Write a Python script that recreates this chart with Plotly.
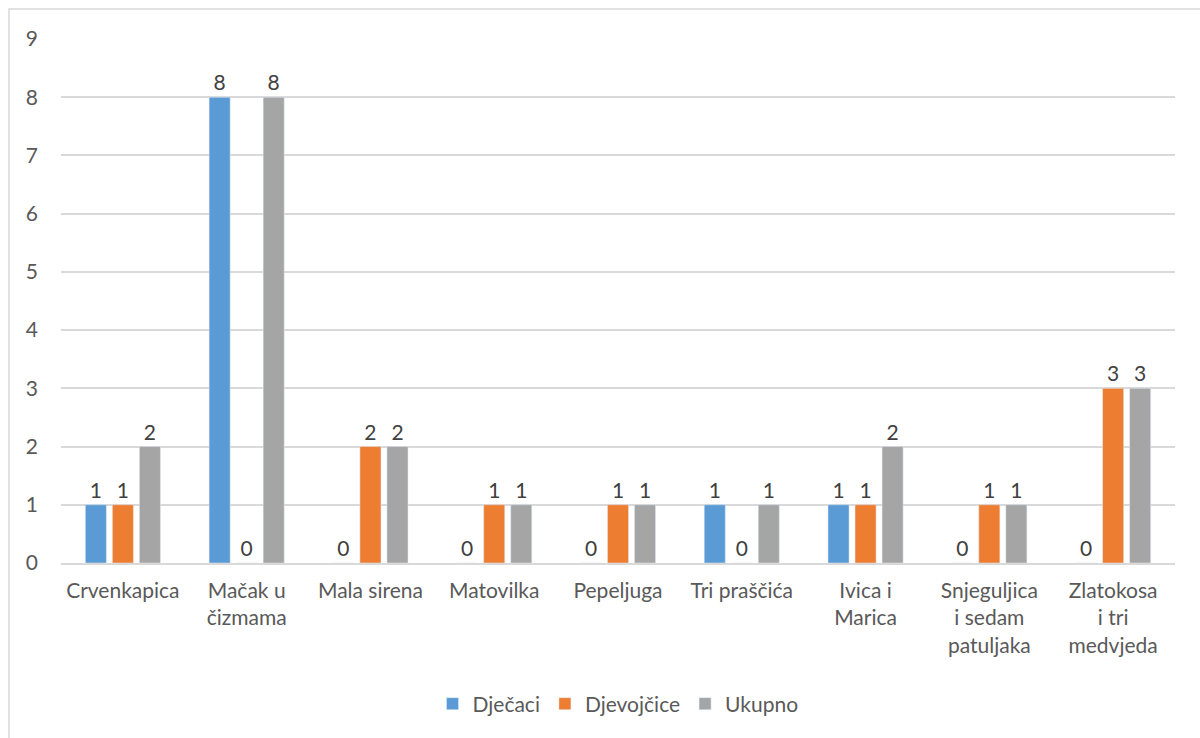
import plotly.graph_objects as go

categories = ["Crvenkapica", "Mačak u<br>čizmama", "Mala sirena", "Matovilka", "Pepeljuga",
              "Tri praščića", "Ivica i<br>Marica", "Snjeguljica<br>i sedam<br>patuljaka",
              "Zlatokosa<br>i tri<br>medvjeda"]
djecaci = [1, 8, 0, 0, 0, 1, 1, 0, 0]
djevojcice = [1, 0, 2, 1, 1, 0, 1, 1, 3]
ukupno = [2, 8, 2, 1, 1, 1, 2, 1, 3]
y_ticks = list(range(0, 10))

series = [("Dječaci", djecaci, "#5B9BD5"),
          ("Djevojčice", djevojcice, "#ED7D31"),
          ("Ukupno", ukupno, "#A5A5A5")]

FONT = "Lato"
TXT = "#595959"
FS = 21

fig = go.Figure()
for name, vals, col in series:
    fig.add_trace(go.Bar(
        x=categories, y=vals, name=name, marker_color=col,
        text=[str(v) for v in vals], textposition="outside",
        textfont=dict(size=FS, color="#404040", family=FONT),
        cliponaxis=False,
    ))

L, R, T, B = 61, 25, 39, 175
W, H = 1200, 738
pw = W - L - R
ph = H - T - B

fig.update_layout(
    width=W, height=H,
    margin=dict(l=L, r=R, t=T, b=B),
    paper_bgcolor="white", plot_bgcolor="white",
    barmode="group", bargap=0.345, bargroupgap=0.22,
    font=dict(family=FONT, size=FS, color=TXT),
    showlegend=True,
    legend=dict(orientation="h", x=0.5, xanchor="center", y=-(704 - (H - B)) / ph,
                yanchor="middle", font=dict(size=FS, color=TXT), itemwidth=30,
                traceorder="normal"),
    xaxis=dict(showgrid=False, showline=True, linecolor="#D9D9D9", linewidth=1.5,
               tickfont=dict(size=FS, color=TXT), ticks="", ticklabelstandoff=8),
    yaxis=dict(range=[0, 9], tickvals=y_ticks, showgrid=True, gridcolor="#D9D9D9",
               gridwidth=1.5, zeroline=False, showline=False,
               tickfont=dict(size=FS, color=TXT), ticklabelstandoff=22),
)

fig.add_shape(type="rect", xref="paper", yref="paper",
              x0=(9 - L) / pw, x1=(W + 5 - L) / pw,
              y0=-(H + 5 - (H - B)) / ph, y1=(H - B - 9) / ph,
              line=dict(color="#D9D9D9", width=1.5), fillcolor="rgba(0,0,0,0)", layer="below")

fig.write_html("out.html", config={"displayModeBar": False},
               post_script="document.body.style.margin='0';document.body.style.overflow='hidden';")
